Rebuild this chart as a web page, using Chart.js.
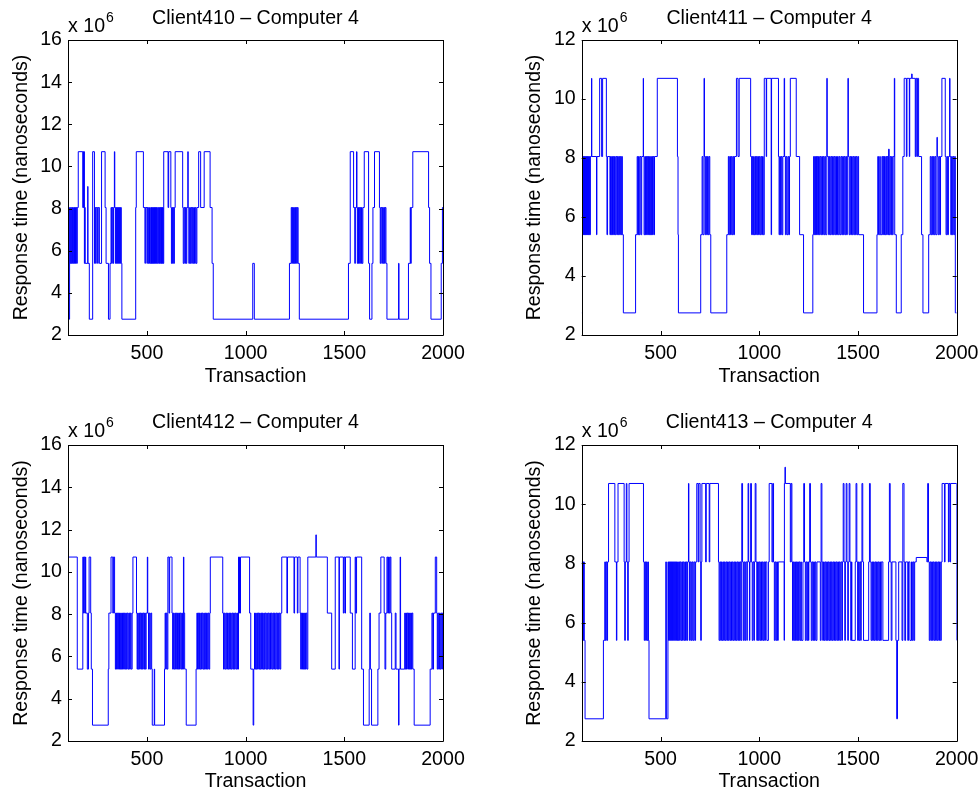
<!DOCTYPE html>
<html>
<head>
<meta charset="utf-8">
<script src="https://cdn.jsdelivr.net/npm/chart.js@4"></script>
<style>
  body { margin: 0; background: #fff; }
  canvas { position: absolute; }
</style>
</head>
<body>
<canvas id="c410" width="470" height="400" style="left:0px;top:0px"></canvas>
<canvas id="c411" width="490" height="400" style="left:490px;top:0px"></canvas>
<canvas id="c412" width="470" height="395" style="left:0px;top:400px"></canvas>
<canvas id="c413" width="490" height="395" style="left:490px;top:400px"></canvas>
<script>
// response time levels (x 10^6 ns)
var A = 2.75, B = 5.4, C = 8.05, D = 10.7;

var xTicks = [500, 1000, 1500, 2000];
var yTicksBig = [2, 4, 6, 8, 10, 12, 14, 16];
var yTicksSmall = [2, 4, 6, 8, 10, 12];

// Client410: transaction where the level starts, and the level
var t410 = [100,103,108,111,114,116,119,122,124,127,130,133,135,138,141,144,147,152,175,177,179,181,183,185,187,200,201,208,225,234,236,240,243,250,253,259,270,288,293,305,313,318,321,324,328,331,335,337,340,342,345,347,350,352,355,357,360,362,365,367,370,373,443,446,482,490,492,500,502,506,509,513,519,521,523,525,527,529,532,534,536,538,540,543,545,547,549,552,555,559,563,565,567,570,572,574,576,578,580,582,585,607,610,621,624,627,630,633,636,639,643,681,684,688,692,695,699,702,707,709,712,716,720,723,727,730,734,737,741,745,749,753,762,772,790,820,830,836,1036,1044,1222,1231,1234,1237,1240,1243,1247,1250,1253,1256,1259,1262,1266,1272,1521,1530,1547,1553,1556,1562,1564,1566,1569,1572,1575,1578,1581,1584,1587,1590,1594,1601,1623,1628,1640,1645,1653,1678,1682,1685,1690,1693,1697,1700,1704,1707,1711,1716,1775,1777,1825,1834,1836,1839,1847,1927,1932,1939,1991,1997,2000];
var v410 = [B,A,C,B,C,B,C,B,C,B,C,B,C,B,C,B,C,D,C,D,C,D,B,C,B,9.05,B,A,D,B,C,B,C,B,C,B,D,C,B,A,B,C,B,C,B,C,D,C,B,C,B,C,B,C,B,C,B,C,B,C,B,A,C,D,C,B,C,B,C,B,C,B,C,B,C,B,C,B,C,B,C,B,C,B,C,B,C,B,C,B,C,B,C,B,C,B,C,B,C,B,D,C,D,C,B,C,B,C,B,C,D,C,B,C,B,C,B,C,D,C,B,C,B,C,B,C,B,C,B,C,B,C,D,C,D,C,B,A,B,A,B,C,B,C,B,C,B,C,B,C,B,C,B,A,B,D,C,B,C,D,C,B,C,B,C,B,C,B,C,B,C,D,B,A,B,C,D,C,B,C,B,C,B,C,B,C,B,A,B,A,B,C,B,C,D,C,B,A,B,C,C];

// Client411
var t411 = [100,104,106,108,110,112,114,116,118,120,122,124,126,128,130,132,134,136,139,141,144,150,151,175,177,191,201,206,225,228,231,243,246,250,253,256,260,263,266,270,274,278,281,285,288,292,296,300,303,306,311,373,381,384,388,391,395,400,404,412,413,416,420,423,426,429,432,435,438,441,444,447,450,453,456,459,462,466,469,483,585,588,590,703,710,714,720,722,726,729,733,737,741,745,749,754,835,843,846,850,854,858,862,866,870,874,884,892,898,956,961,964,967,971,974,978,981,985,989,992,996,1000,1004,1008,1012,1016,1020,1025,1035,1037,1060,1062,1097,1100,1103,1107,1111,1115,1119,1126,1128,1132,1136,1140,1145,1149,1153,1157,1187,1204,1224,1271,1275,1278,1281,1284,1287,1290,1293,1296,1300,1304,1308,1312,1316,1320,1324,1328,1332,1336,1342,1344,1351,1355,1359,1363,1367,1371,1375,1379,1383,1387,1391,1396,1400,1405,1409,1414,1418,1422,1426,1430,1434,1438,1442,1446,1449,1451,1455,1459,1463,1467,1471,1475,1479,1483,1487,1491,1495,1499,1503,1528,1596,1600,1604,1610,1613,1621,1625,1628,1631,1634,1637,1641,1645,1648,1652,1655,1658,1662,1666,1670,1674,1678,1684,1686,1694,1719,1727,1734,1745,1748,1760,1762,1772,1774,1790,1793,1798,1801,1807,1822,1829,1858,1866,1870,1874,1878,1882,1886,1890,1894,1900,1902,1906,1910,1914,1918,1925,1942,1946,1950,1954,1958,1964,1966,1970,1974,1978,1982,1986,1990,1993,2000];
var v411 = [A,B,C,B,C,B,C,B,C,B,C,B,C,B,C,B,C,B,C,B,C,D,C,B,C,D,C,D,C,B,C,B,C,B,C,B,C,B,C,B,C,B,C,B,C,B,C,B,C,B,A,B,C,B,C,B,C,B,C,D,C,B,C,B,C,B,C,B,C,B,C,B,C,B,C,B,C,B,C,D,C,B,A,B,C,B,D,C,B,C,B,C,B,C,B,A,B,C,B,C,B,C,B,C,B,C,D,C,D,C,B,C,B,C,B,C,B,C,B,C,B,C,B,C,B,C,B,D,C,D,B,D,C,B,C,B,C,B,C,D,C,B,C,B,C,B,C,D,C,B,A,B,C,B,C,B,C,B,C,B,C,B,C,B,C,B,C,B,C,B,D,C,B,C,B,C,B,C,B,C,B,C,B,C,B,C,B,C,B,C,B,C,B,C,B,C,D,C,B,C,B,C,B,C,B,C,B,C,B,C,B,A,B,C,B,C,B,C,B,C,B,C,B,C,B,C,B,8.3,B,C,B,C,B,C,D,B,A,B,C,D,C,D,C,D,10.85,D,C,D,C,D,C,B,A,B,C,B,C,B,C,B,C,B,8.7,C,B,C,B,C,D,C,B,C,B,C,D,C,B,C,B,C,B,C,A,A];

// Client412
var t412 = [100,147,175,179,181,185,188,190,198,204,207,215,218,224,304,307,318,327,330,336,340,343,346,349,352,355,358,361,364,367,370,373,376,379,382,385,388,392,396,400,404,408,412,416,420,425,429,447,450,453,456,460,463,466,470,473,477,481,485,488,492,496,502,504,508,512,516,520,524,527,537,539,589,592,595,598,602,606,612,615,627,630,634,637,641,645,648,651,655,658,661,665,668,672,676,680,685,687,691,695,699,749,753,756,760,763,766,770,774,777,780,784,788,791,795,798,802,806,810,814,818,821,884,888,892,896,900,904,908,912,916,919,923,927,931,935,939,943,947,951,955,959,964,969,974,1020,1026,1038,1041,1045,1048,1051,1054,1058,1061,1064,1068,1071,1074,1078,1081,1085,1088,1092,1095,1099,1103,1107,1110,1114,1118,1122,1126,1130,1134,1138,1142,1146,1150,1154,1158,1162,1166,1170,1174,1178,1183,1209,1212,1245,1248,1262,1265,1276,1279,1282,1285,1288,1291,1294,1297,1300,1303,1306,1310,1315,1356,1358,1414,1436,1454,1473,1475,1495,1498,1503,1506,1530,1541,1555,1558,1562,1588,1597,1626,1629,1632,1638,1670,1676,1685,1702,1706,1710,1716,1720,1724,1728,1732,1736,1740,1758,1762,1775,1777,1783,1785,1806,1809,1812,1815,1818,1822,1825,1828,1831,1834,1837,1840,1843,1847,1854,1935,1944,1948,1952,1961,1968,1971,1974,1978,1982,1986,1990,1994,1997,2000];
var v412 = [D,B,D,C,D,C,D,C,B,C,D,C,B,A,B,C,D,C,D,C,B,C,B,C,B,C,B,C,B,C,B,C,B,C,B,C,B,C,B,C,B,C,B,C,B,C,D,C,B,C,B,C,B,C,B,C,B,C,B,C,B,C,D,C,B,C,B,C,B,A,B,A,B,C,B,C,B,D,C,D,C,B,C,B,C,B,C,B,C,B,C,B,C,B,C,B,D,C,B,B,A,B,C,B,C,B,C,B,C,B,C,B,C,B,C,B,C,B,C,B,C,D,C,B,C,B,C,B,C,B,C,B,C,B,C,B,C,B,C,B,C,B,D,C,D,C,B,A,B,C,B,C,B,C,B,C,B,C,B,C,B,C,B,C,B,C,B,C,B,C,B,C,B,C,B,C,B,C,B,C,B,C,B,C,B,C,D,C,D,C,D,C,D,C,B,C,B,C,B,C,B,C,B,C,B,D,11.75,D,C,B,D,B,D,C,D,C,D,C,B,D,C,D,B,A,B,C,B,A,B,C,D,C,B,C,D,C,D,C,D,C,B,C,B,A,B,D,B,C,B,C,B,C,B,C,B,C,B,C,B,C,B,A,B,C,B,C,D,C,B,C,B,C,B,C,B,C,C];

// Client413
var t413 = [100,103,105,108,110,113,117,210,217,220,224,228,231,236,268,276,278,284,315,318,321,326,329,333,336,340,413,417,420,424,428,432,436,438,441,526,529,537,540,543,546,548,551,553,556,558,561,563,566,569,572,574,577,580,583,586,589,592,596,599,603,607,611,614,618,622,626,630,634,637,641,643,646,650,655,659,663,668,673,677,683,690,693,700,703,706,709,728,731,746,749,793,796,800,804,808,811,815,819,823,827,831,835,839,843,847,851,855,859,863,867,871,875,879,883,887,891,895,899,903,907,911,915,919,923,927,931,937,939,943,946,950,952,956,960,964,968,973,975,979,983,987,991,995,999,1003,1007,1011,1015,1019,1023,1027,1031,1038,1046,1050,1064,1068,1072,1076,1080,1084,1088,1092,1096,1126,1127,1130,1132,1157,1161,1165,1168,1172,1175,1179,1183,1187,1190,1194,1198,1202,1206,1210,1213,1221,1225,1229,1233,1237,1241,1245,1249,1251,1255,1259,1263,1267,1271,1275,1279,1283,1287,1292,1309,1313,1317,1321,1325,1329,1333,1337,1341,1345,1349,1353,1357,1361,1365,1369,1373,1377,1381,1385,1389,1393,1397,1401,1405,1409,1413,1418,1421,1425,1429,1433,1436,1440,1444,1448,1451,1455,1459,1463,1467,1469,1486,1490,1494,1498,1502,1506,1510,1514,1516,1520,1524,1528,1554,1558,1562,1566,1570,1574,1578,1582,1586,1590,1594,1598,1602,1606,1610,1614,1618,1626,1655,1659,1663,1668,1672,1692,1696,1700,1706,1723,1727,1733,1737,1741,1752,1756,1763,1771,1775,1779,1783,1787,1795,1849,1853,1857,1861,1865,1869,1873,1877,1881,1885,1889,1893,1897,1901,1905,1909,1913,1917,1922,1926,1938,1941,1958,1961,1966,1969,2000];
var v413 = [C,B,C,B,C,B,A,B,C,B,C,B,C,D,C,B,C,D,C,B,C,D,C,B,C,D,C,B,C,B,C,B,C,B,A,C,A,C,B,C,B,C,B,C,B,C,B,C,B,C,B,C,B,C,B,C,B,C,B,C,B,C,B,C,B,C,B,C,B,C,D,C,B,C,B,C,B,C,B,C,D,C,D,C,B,C,D,C,D,C,D,C,B,C,B,C,B,C,B,C,B,C,B,C,B,C,B,C,B,C,B,C,B,C,B,C,B,C,B,C,B,D,C,B,C,B,C,B,C,D,C,B,C,D,C,B,C,B,C,D,C,B,C,B,C,B,C,B,C,B,C,B,C,B,C,D,C,D,C,B,C,B,C,B,C,B,D,11.25,D,C,D,C,B,C,B,C,B,C,B,C,B,C,B,C,B,C,D,C,B,C,B,C,B,C,D,C,B,C,B,C,B,C,B,C,B,D,C,B,C,B,C,B,C,B,C,B,C,B,C,B,C,B,C,B,C,B,C,B,C,B,C,B,C,D,C,B,C,D,C,B,C,D,C,B,C,B,C,D,C,B,C,B,C,B,C,D,C,B,C,D,C,B,C,B,C,B,C,B,C,B,C,B,C,B,C,B,C,D,C,B,C,B,A,B,C,B,D,C,B,C,B,C,B,C,B,C,B,C,8.2,C,D,C,B,C,B,C,B,C,B,C,B,C,B,C,B,C,B,C,D,C,D,C,D,C,D,B,D,D];

var fontFam = '"Liberation Sans", Arial, Helvetica, sans-serif';
var fs = 19.6;

// box, inward ticks, title and the x 10^6 note, like matlab
var matlabAxes = {
  id: 'matlabAxes',
  afterDraw: function (chart) {
    var ctx = chart.ctx;
    var a = chart.chartArea;
    var xs = chart.scales.x, ys = chart.scales.y;
    var o = chart.options.plugins.matlabAxes;
    ctx.save();
    ctx.strokeStyle = '#000';
    ctx.lineWidth = 1;
    ctx.beginPath();
    ctx.rect(Math.round(a.left) + 0.5, Math.round(a.top) + 0.5, Math.round(a.right - a.left), Math.round(a.bottom - a.top));
    ctx.stroke();
    ctx.beginPath();
    xs.ticks.forEach(function (tk) {
      var px = Math.round(xs.getPixelForValue(tk.value)) + 0.5;
      ctx.moveTo(px, a.bottom); ctx.lineTo(px, a.bottom - 4);
      ctx.moveTo(px, a.top); ctx.lineTo(px, a.top + 4);
    });
    ys.ticks.forEach(function (tk) {
      var py = Math.round(ys.getPixelForValue(tk.value)) + 0.5;
      ctx.moveTo(a.left, py); ctx.lineTo(a.left + 4, py);
      ctx.moveTo(a.right, py); ctx.lineTo(a.right - 4, py);
    });
    ctx.stroke();

    ctx.fillStyle = '#000';
    ctx.font = fs + 'px ' + fontFam;
    ctx.textAlign = 'center';
    ctx.textBaseline = 'middle';
    ctx.fillText(o.title, (a.left + a.right) / 2, a.top - o.titleGap);

    ctx.textAlign = 'left';
    ctx.textBaseline = 'alphabetic';
    ctx.fillText('x 10', a.left, a.top - 8.5);
    var w = ctx.measureText('x 10').width;
    ctx.font = '14px ' + fontFam;
    ctx.fillText('6', a.left + w + 1, a.top - 18);
    ctx.restore();
  }
};

function plainNumber(v) {
  return String(v);
}

function makeChart(id, title, tArr, vArr, yMax, yTicks, pad, xHeight, titleGap) {
  var pts = [];
  for (var i = 0; i < tArr.length; i++) {
    pts.push({ x: tArr[i], y: vArr[i] });
  }
  var ctx = document.getElementById(id).getContext('2d');
  return new Chart(ctx, {
    type: 'line',
    data: {
      datasets: [{
        data: pts,
        borderColor: '#0000ff',
        borderWidth: 1,
        pointRadius: 0,
        stepped: true,
        fill: false
      }]
    },
    options: {
      responsive: false,
      animation: false,
      devicePixelRatio: 1,
      layout: { padding: pad },
      plugins: {
        legend: { display: false },
        tooltip: { enabled: false },
        matlabAxes: { title: title, titleGap: titleGap }
      },
      scales: {
        x: {
          type: 'linear',
          min: 100,
          max: 2000,
          grid: { display: false, drawTicks: false },
          border: { display: false },
          afterBuildTicks: function (s) {
            s.ticks = xTicks.map(function (v) { return { value: v }; });
          },
          afterFit: function (s) {
            s.height = xHeight;
            s.paddingLeft = 0;
            s.paddingRight = 0;
          },
          ticks: { color: '#000', padding: 7, maxRotation: 0, callback: plainNumber, font: { family: fontFam, size: fs } },
          title: { display: true, text: 'Transaction', color: '#000', padding: { top: 0, bottom: 1.3 }, font: { family: fontFam, size: fs } }
        },
        y: {
          min: 2,
          max: yMax,
          grid: { display: false, drawTicks: false },
          border: { display: false },
          afterBuildTicks: function (s) {
            s.ticks = yTicks.map(function (v) { return { value: v }; });
          },
          afterFit: function (s) {
            s.width = 68;
            s.paddingTop = 0;
            s.paddingBottom = 0;
          },
          ticks: { color: '#000', padding: 6, callback: plainNumber, font: { family: fontFam, size: fs } },
          title: { display: true, text: 'Response time (nanoseconds)', color: '#000', padding: { top: 9.5, bottom: 0 }, font: { family: fontFam, size: fs } }
        }
      }
    },
    plugins: [matlabAxes]
  });
}

makeChart('c410', 'Client410 \u2013 Computer 4', t410, v410, 16, yTicksBig, { left: 0, right: 27, top: 40, bottom: 10 }, 55, 21.7);
makeChart('c411', 'Client411 \u2013 Computer 4', t411, v411, 12, yTicksSmall, { left: 23.7, right: 23.3, top: 40, bottom: 10 }, 55, 21.7);
makeChart('c412', 'Client412 \u2013 Computer 4', t412, v412, 16, yTicksBig, { left: 0, right: 27, top: 45, bottom: 0 }, 54, 22.3);
makeChart('c413', 'Client413 \u2013 Computer 4', t413, v413, 12, yTicksSmall, { left: 23.7, right: 23.3, top: 45, bottom: 0 }, 54, 22.3);
</script>
</body>
</html>
